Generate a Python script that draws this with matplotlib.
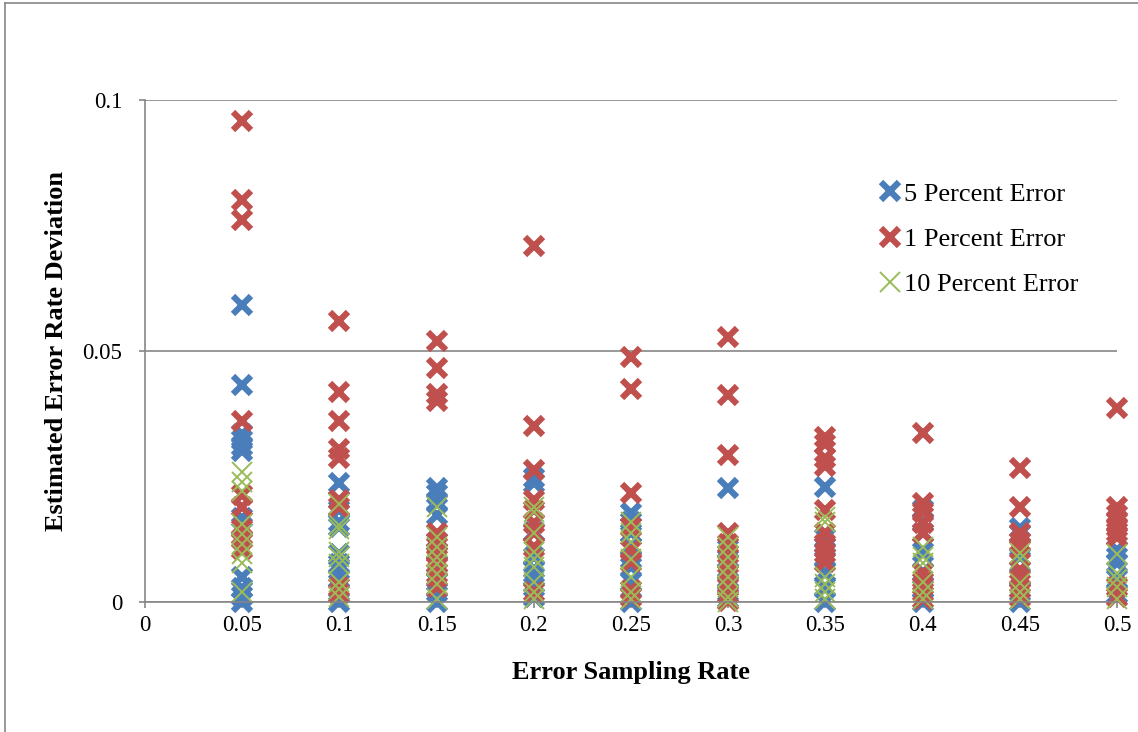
import matplotlib.pyplot as plt
from matplotlib.lines import Line2D
from matplotlib.ticker import FuncFormatter

# sampling rates on the x axis
sampling_rates = [0.05, 0.1, 0.15, 0.2, 0.25, 0.3, 0.35, 0.4, 0.45, 0.5]

# estimated error rate deviation, one list per sampling rate
dev_5pct = [
    [0.0591, 0.0433, 0.0334, 0.0322, 0.0310, 0.0300, 0.0168, 0.0150, 0.0050, 0.0028, 0.0012, 0.0],
    [0.0237, 0.0203, 0.0183, 0.0160, 0.0150, 0.0095, 0.0075, 0.0064, 0.0045, 0.0020, 0.0],
    [0.0227, 0.0215, 0.0197, 0.0173, 0.0120, 0.0100, 0.0075, 0.0040, 0.0020, 0.0],
    [0.0247, 0.0237, 0.0140, 0.0090, 0.0065, 0.0050, 0.0030, 0.0010],
    [0.0177, 0.0160, 0.0137, 0.0110, 0.0085, 0.0070, 0.0040, 0.0],
    [0.0227, 0.0105, 0.0085, 0.0060, 0.0040, 0.0020, 0.0005],
    [0.0230, 0.0127, 0.0110, 0.0090, 0.0060, 0.0030, 0.0],
    [0.0183, 0.0160, 0.0137, 0.0100, 0.0060, 0.0025, 0.0],
    [0.0147, 0.0135, 0.0110, 0.0090, 0.0050, 0.0020, 0.0],
    [0.0104, 0.0090, 0.0077, 0.0045, 0.0015],
]
dev_1pct = [
    [0.0959, 0.0801, 0.0761, 0.0361, 0.0213, 0.0190, 0.0145, 0.0125, 0.0105],
    [0.0559, 0.0419, 0.0361, 0.0304, 0.0287, 0.0203, 0.0190, 0.0030, 0.0015],
    [0.0519, 0.0467, 0.0415, 0.0400, 0.0137, 0.0120, 0.0100, 0.0085, 0.0070, 0.0050, 0.0030],
    [0.0710, 0.0351, 0.0263, 0.0203, 0.0183, 0.0157, 0.0137, 0.0110, 0.0020],
    [0.0489, 0.0425, 0.0217, 0.0150, 0.0104, 0.0080, 0.0024, 0.0010],
    [0.0527, 0.0412, 0.0293, 0.0137, 0.0115, 0.0095, 0.0075, 0.0055, 0.0035, 0.0015, 0.0002],
    [0.0329, 0.0315, 0.0286, 0.0270, 0.0183, 0.0137, 0.0115, 0.0097, 0.0080],
    [0.0336, 0.0197, 0.0180, 0.0157, 0.0137, 0.0057, 0.0040, 0.0020, 0.0005],
    [0.0266, 0.0190, 0.0137, 0.0120, 0.0105, 0.0064, 0.0045, 0.0025, 0.0010],
    [0.0386, 0.0190, 0.0173, 0.0160, 0.0150, 0.0140, 0.0130, 0.0030, 0.0010],
]
dev_10pct = [
    [0.0258, 0.0240, 0.0222, 0.0155, 0.0135, 0.0115, 0.0095, 0.0078, 0.0020],
    [0.0195, 0.0153, 0.0145, 0.0100, 0.0090, 0.0075, 0.0040, 0.0025, 0.0010],
    [0.0190, 0.0130, 0.0110, 0.0090, 0.0075, 0.0055, 0.0035, 0.0005],
    [0.0190, 0.0180, 0.0137, 0.0100, 0.0085, 0.0070, 0.0040, 0.0020, 0.0005],
    [0.0160, 0.0137, 0.0120, 0.0085, 0.0050, 0.0020, 0.0005],
    [0.0130, 0.0110, 0.0090, 0.0070, 0.0050, 0.0030, 0.0010, 0.0],
    [0.0170, 0.0160, 0.0050, 0.0035, 0.0020, 0.0005],
    [0.0110, 0.0090, 0.0077, 0.0040, 0.0020, 0.0005],
    [0.0097, 0.0085, 0.0038, 0.0020, 0.0005],
    [0.0095, 0.0057, 0.0045, 0.0030, 0.0005],
]

series = [
    ("5 Percent Error", dev_5pct, "#4A7EBB", 13, 4.5),
    ("1 Percent Error", dev_1pct, "#C0504D", 13, 4.5),
    ("10 Percent Error", dev_10pct, "#9BBB59", 15, 1.4),
]


def flatten(values):
    xs, ys = [], []
    for rate, col in zip(sampling_rates, values):
        xs += [rate] * len(col)
        ys += col
    return xs, ys


plt.rcParams["font.family"] = ["Liberation Serif", "DejaVu Serif"]

fig = plt.figure(figsize=(11.38, 7.32), dpi=100)
ax = fig.add_axes([145 / 1138, 130 / 732, 972 / 1138, 502 / 732])

for label, values, color, ms, mew in series:
    xs, ys = flatten(values)
    ax.plot(xs, ys, linestyle="none", marker="x", color=color,
            markersize=ms, markeredgewidth=mew, label=label, clip_on=False)

ax.set_xlim(0, 0.5)
ax.set_ylim(0, 0.1)
ax.set_xticks([0] + sampling_rates)
ax.set_yticks([0, 0.05, 0.1])
fmt = FuncFormatter(lambda v, p: "%g" % round(v, 3))
ax.xaxis.set_major_formatter(fmt)
ax.yaxis.set_major_formatter(fmt)
ax.tick_params(axis="both", direction="out", length=4.5, width=1.2, color="#868686",
               labelsize=16.5)
ax.tick_params(axis="y", pad=12)
ax.tick_params(axis="x", pad=5)

ax.grid(axis="y", color="#868686", linewidth=1.2)
ax.set_axisbelow(True)
for side in ("top", "right"):
    ax.spines[side].set_visible(False)
for side in ("left", "bottom"):
    ax.spines[side].set_color("#868686")
    ax.spines[side].set_linewidth(1.2)

ax.set_xlabel("Error Sampling Rate", fontsize=19, fontweight="bold", labelpad=18)
ax.set_ylabel("Estimated Error Rate Deviation", fontsize=19, fontweight="bold", labelpad=10)

ax.legend(loc="upper left", bbox_to_anchor=(867 / 1138, (732 - 169) / 732),
          bbox_transform=fig.transFigure, frameon=False, fontsize=19,
          handlelength=0.75, handletextpad=0.15, labelspacing=0.82, borderpad=0)

# chart border (top and left edges visible)
fig.add_artist(Line2D([5 / 1138, 5 / 1138], [0, 1 - 3 / 732], color="#868686", lw=1.2))
fig.add_artist(Line2D([5 / 1138, 1], [1 - 3 / 732, 1 - 3 / 732], color="#868686", lw=1.2))

fig.savefig("out.png", dpi=100)
